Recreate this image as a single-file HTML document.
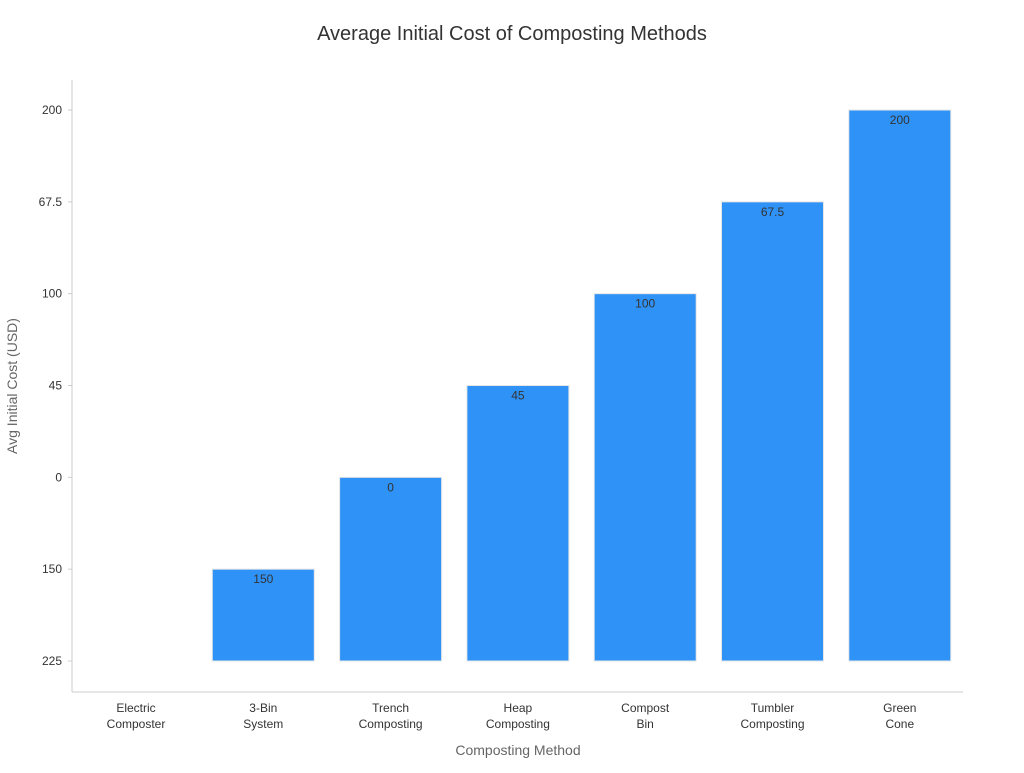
<!DOCTYPE html>
<html><head><meta charset="utf-8"><style>
body{margin:0;background:#fff;font-family:"Liberation Sans","DejaVu Sans",sans-serif;}
</style></head><body>
<svg width="1024" height="768" xmlns="http://www.w3.org/2000/svg" id="chart">
<rect width="1024" height="768" fill="#fff"/>
<text x="512" y="40" text-anchor="middle" font-size="20" fill="#333">Average Initial Cost of Composting Methods</text>
<line x1="72" y1="80" x2="72" y2="692" stroke="#ccc"/>
<line x1="72" y1="692" x2="963" y2="692" stroke="#ccc"/>
<text transform="translate(17,386) rotate(-90)" text-anchor="middle" font-size="14" fill="#666">Avg Initial Cost (USD)</text>
<text x="518" y="755" text-anchor="middle" font-size="14" fill="#666">Composting Method</text>
<g id="g"></g>
</svg>
<script>
const categories=[["Electric","Composter"],["3-Bin","System"],["Trench","Composting"],["Heap","Composting"],["Compost","Bin"],["Tumbler","Composting"],["Green","Cone"]];
const values=["225","150","0","45","100","67.5","200"];
const yTicks=["225","150","0","45","100","67.5","200"];
const NS="http://www.w3.org/2000/svg";
const g=document.getElementById('g');
function yPos(label){const i=yTicks.indexOf(label);return 661-i*91.83;}
function xPos(i){return 136+i*127.3;}
function el(t,a){const e=document.createElementNS(NS,t);for(const k in a)e.setAttribute(k,a[k]);g.appendChild(e);return e;}
yTicks.forEach((t,i)=>{
  const y=yPos(t);
  el('line',{x1:68,x2:72,y1:y,y2:y,stroke:'#ccc'});
  const tx=el('text',{x:62,y:y+4,'text-anchor':'end','font-size':12,fill:'#333'});
  tx.textContent=t;
  
  
});
const base=yPos(yTicks[0]);
categories.forEach((c,i)=>{
  const x=xPos(i);
  const top=yPos(values[i]);
  const r=el('rect',{x:x-51,y:top,width:102,height:base-top,fill:'#2f92f7',stroke:'#e6e6e6','stroke-width':1});
  
  
  if(base-top>0){
    const v=el('text',{x:x,y:top+14,'text-anchor':'middle','font-size':12,fill:'#333'});
    v.textContent=values[i];
    
    
  }
  const t=el('text',{x:x,y:712,'text-anchor':'middle','font-size':12,fill:'#333'});
  
  
  c.forEach((ln,j)=>{const s=document.createElementNS(NS,'tspan');s.setAttribute('x',x);s.setAttribute('dy',j?16:0);s.textContent=ln;t.appendChild(s);});
});
</script>
</body></html>
